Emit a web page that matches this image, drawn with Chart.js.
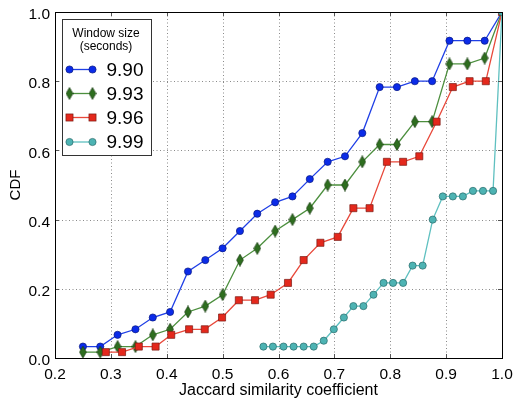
<!DOCTYPE html>
<html>
<head>
<meta charset="utf-8">
<script src="https://cdn.jsdelivr.net/npm/chart.js@4.4.1/dist/chart.umd.min.js"></script>
<style>
html,body{margin:0;padding:0;background:#fff;}
#wrap{width:514px;height:400px;}
</style>
</head>
<body>
<div id="wrap"><canvas id="c" width="514" height="400"></canvas></div>
<script>
// ---- data ----
const seriesLabels = ['9.90', '9.93', '9.96', '9.99'];
const legendTitle = ['Window size', '(seconds)'];
const xTitle = 'Jaccard similarity coefficient';
const yTitle = 'CDF';

const xBlueGreen = [0.25,0.281,0.312,0.344,0.375,0.406,0.438,0.469,0.5,0.531,0.562,0.594,0.625,0.656,0.688,0.719,0.75,0.781,0.812,0.844,0.875,0.906,0.938,0.969,1.0];
const xRed = [0.291,0.320,0.350,0.380,0.408,0.440,0.468,0.499,0.529,0.558,0.586,0.617,0.645,0.675,0.706,0.734,0.763,0.794,0.823,0.852,0.883,0.912,0.942,0.971,1.0];
const xCyan = [0.573,0.590,0.609,0.627,0.645,0.663,0.681,0.699,0.717,0.734,0.752,0.770,0.788,0.805,0.823,0.840,0.858,0.876,0.894,0.912,0.930,0.948,0.966,0.984,1.0];

const yBlue = [0.033,0.033,0.067,0.083,0.117,0.133,0.25,0.283,0.317,0.367,0.417,0.45,0.467,0.517,0.567,0.583,0.65,0.783,0.783,0.8,0.8,0.917,0.917,0.917,1.0];
const yGreen = [0.017,0.017,0.033,0.033,0.067,0.083,0.133,0.15,0.183,0.283,0.317,0.367,0.4,0.433,0.5,0.5,0.567,0.617,0.617,0.683,0.683,0.85,0.85,0.867,1.0];
const yRed = [0.017,0.017,0.033,0.033,0.067,0.083,0.083,0.117,0.167,0.167,0.183,0.217,0.283,0.333,0.35,0.433,0.433,0.567,0.567,0.583,0.683,0.783,0.8,0.8,1.0];
const yCyan = [0.033,0.033,0.033,0.033,0.033,0.033,0.05,0.083,0.117,0.15,0.15,0.183,0.217,0.217,0.217,0.267,0.267,0.4,0.467,0.467,0.467,0.483,0.483,0.483,1.0];

const xTicks = [0.2,0.3,0.4,0.5,0.6,0.7,0.8,0.9,1.0];
const yTicks = [0.0,0.2,0.4,0.6,0.8,1.0];

// ---- styling ----
const FONT = '"Liberation Sans", Arial, Helvetica, sans-serif';

function makeDiamond(fill, edge) {
  const c = document.createElement('canvas');
  c.width = 8; c.height = 13;
  const g = c.getContext('2d');
  g.beginPath();
  g.moveTo(4, 0.5); g.lineTo(7.4, 6.5); g.lineTo(4, 12.5); g.lineTo(0.6, 6.5); g.closePath();
  g.fillStyle = fill; g.fill();
  g.lineWidth = 0.7; g.strokeStyle = edge; g.stroke();
  return c;
}
const diamond = makeDiamond('#2e6e1f', '#173a10');

const styles = [
  {line:'#1f3fe6', fill:'#0b2be8', edge:'#0a1a80', point:'circle', r:3.6},
  {line:'#4c8f3e', fill:'#2e6e1f', edge:'#173a10', point:diamond, r:5},
  {line:'#e8483a', fill:'#e4281c', edge:'#7a1a12', point:'rect', r:5},
  {line:'#5fc0c0', fill:'#4db3b3', edge:'#2a6a6a', point:'circle', r:3.6}
];

function pts(xs, ys){ return xs.map((x,i)=>({x:x, y:ys[i]})); }
const xsAll = [xBlueGreen, xBlueGreen, xRed, xCyan];
const ysAll = [yBlue, yGreen, yRed, yCyan];

const datasets = seriesLabels.map((lab, i) => ({
  label: lab,
  data: pts(xsAll[i], ysAll[i]),
  borderColor: styles[i].line,
  borderWidth: 1.3,
  backgroundColor: styles[i].fill,
  pointBackgroundColor: styles[i].fill,
  pointBorderColor: styles[i].edge,
  pointBorderWidth: 0.7,
  pointStyle: styles[i].point,
  pointRadius: styles[i].r,
  tension: 0,
  fill: false,
  clip: 0,
  order: 3 - i
}));

const framePlugin = {
  id: 'frame',
  beforeDatasetsDraw(chart) {
    const {ctx, chartArea: a, scales} = chart;
    ctx.save();
    ctx.strokeStyle = '#8a8a8a';
    ctx.lineWidth = 1;
    ctx.setLineDash([1, 2.5]);
    xTicks.forEach(v => {
      const px = Math.round(scales.x.getPixelForValue(v)) + 0.5;
      if (px > a.left + 1 && px < a.right - 1) {
        ctx.beginPath(); ctx.moveTo(px, a.top); ctx.lineTo(px, a.bottom); ctx.stroke();
      }
    });
    yTicks.forEach(v => {
      const py = Math.round(scales.y.getPixelForValue(v)) + 0.5;
      if (py > a.top + 1 && py < a.bottom - 1) {
        ctx.beginPath(); ctx.moveTo(a.left, py); ctx.lineTo(a.right, py); ctx.stroke();
      }
    });
    ctx.restore();
  },
  afterDatasetsDraw(chart) {
    const {ctx, chartArea: a, scales} = chart;
    ctx.save();
    ctx.lineWidth = 1;
    ctx.setLineDash([]);
    const tl = 4;
    ctx.strokeStyle = '#555';
    xTicks.forEach(v => {
      const px = Math.round(scales.x.getPixelForValue(v)) + 0.5;
      ctx.beginPath(); ctx.moveTo(px, a.bottom); ctx.lineTo(px, a.bottom - tl); ctx.stroke();
      ctx.beginPath(); ctx.moveTo(px, a.top); ctx.lineTo(px, a.top + tl); ctx.stroke();
    });
    yTicks.forEach(v => {
      const py = Math.round(scales.y.getPixelForValue(v)) + 0.5;
      ctx.beginPath(); ctx.moveTo(a.left, py); ctx.lineTo(a.left + tl, py); ctx.stroke();
      ctx.beginPath(); ctx.moveTo(a.right, py); ctx.lineTo(a.right - tl, py); ctx.stroke();
    });
    ctx.strokeStyle = '#000';
    ctx.strokeRect(Math.round(a.left) + 0.5, Math.round(a.top) + 0.5,
                   Math.round(a.right - a.left), Math.round(a.bottom - a.top));

    // legend box
    const bx = 62.5, by = 19.5, bw = 89, bh = 136;
    ctx.fillStyle = '#fff';
    ctx.fillRect(bx, by, bw, bh);
    ctx.strokeStyle = '#333';
    ctx.lineWidth = 1;
    ctx.strokeRect(bx, by, bw, bh);
    ctx.fillStyle = '#000';
    ctx.textAlign = 'center';
    ctx.textBaseline = 'middle';
    ctx.font = '12px ' + FONT;
    ctx.fillText(legendTitle[0], 106, 33.5);
    ctx.fillText(legendTitle[1], 106, 46.5);
    const rows = [69.5, 93.5, 117.5, 142];
    chart.data.datasets.forEach((ds, i) => {
      const y = rows[i];
      const x1 = 69.5, x2 = 92.5;
      ctx.strokeStyle = ds.borderColor;
      ctx.lineWidth = 1.3;
      ctx.beginPath(); ctx.moveTo(x1, y); ctx.lineTo(x2, y); ctx.stroke();
      [x1, x2].forEach(x => {
        const st = ds.pointStyle;
        ctx.lineWidth = 0.7;
        ctx.fillStyle = ds.pointBackgroundColor;
        ctx.strokeStyle = ds.pointBorderColor;
        if (st === 'circle') {
          ctx.beginPath(); ctx.arc(x, y, ds.pointRadius, 0, Math.PI * 2); ctx.fill(); ctx.stroke();
        } else if (st === 'rect') {
          const s = ds.pointRadius * Math.SQRT1_2;
          ctx.fillRect(x - s, y - s, 2 * s, 2 * s); ctx.strokeRect(x - s, y - s, 2 * s, 2 * s);
        } else {
          ctx.drawImage(st, x - st.width / 2, y - st.height / 2);
        }
      });
      ctx.fillStyle = '#000';
      ctx.textAlign = 'left';
      ctx.textBaseline = 'middle';
      ctx.font = '19px ' + FONT;
      ctx.fillText(ds.label, 106.5, y + 1);
    });
    ctx.restore();
  }
};

new Chart(document.getElementById('c'), {
  type: 'line',
  data: { datasets: datasets },
  options: {
    responsive: false,
    animation: false,
    devicePixelRatio: 1,
    layout: { padding: { top: 12, right: 12, left: 0, bottom: 0 } },
    plugins: { legend: { display: false }, tooltip: { enabled: false } },
    scales: {
      x: {
        type: 'linear', min: 0.2, max: 1.0,
        afterFit(s) { s.height = 42; s.paddingLeft = 0; s.paddingRight = 0; },
        afterBuildTicks(s) { s.ticks = xTicks.map(v => ({value: v})); },
        grid: { display: false, drawTicks: false },
        border: { display: false },
        ticks: { color: '#000', padding: 7, maxRotation: 0, autoSkip: false,
                 font: { family: FONT, size: 15.5 },
                 callback: v => Number(v).toFixed(1) },
        title: { display: true, text: xTitle, color: '#000',
                 font: { family: FONT, size: 16 }, padding: { top: 0, bottom: 0 } }
      },
      y: {
        type: 'linear', min: 0, max: 1.0,
        afterFit(s) { s.width = 55; s.paddingTop = 0; s.paddingBottom = 0; },
        afterBuildTicks(s) { s.ticks = yTicks.map(v => ({value: v})); },
        grid: { display: false, drawTicks: false },
        border: { display: false },
        ticks: { color: '#000', padding: 5, autoSkip: false, labelOffset: 3,
                 font: { family: FONT, size: 15.5 },
                 callback: v => Number(v).toFixed(1) },
        title: { display: true, text: yTitle, color: '#000',
                 font: { family: FONT, size: 15 }, padding: { top: 7, bottom: 0 } }
      }
    }
  },
  plugins: [framePlugin]
});
</script>
</body>
</html>
